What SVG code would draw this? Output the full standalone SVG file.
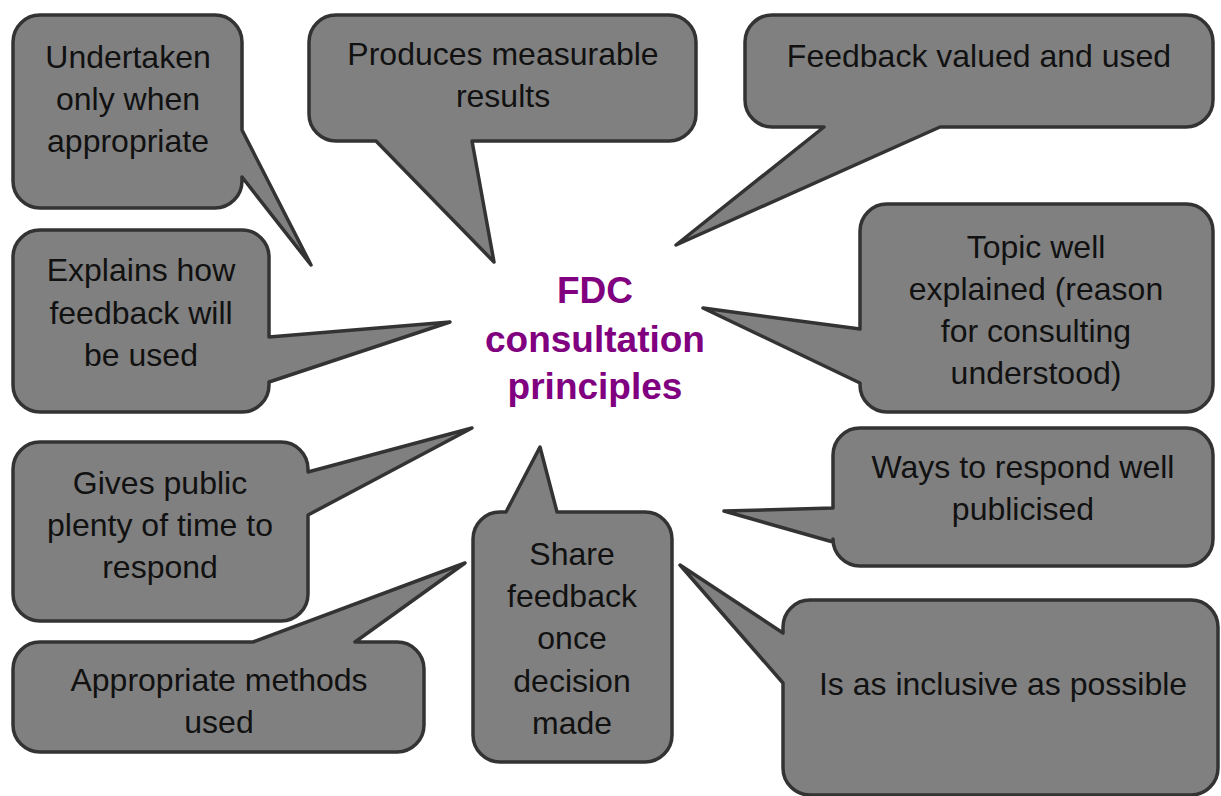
<svg xmlns="http://www.w3.org/2000/svg" width="1221" height="796" viewBox="0 0 1221 796">
<style>
.c{fill:#808080;stroke:#333333;stroke-width:3.5;stroke-linejoin:round}
.t{font-family:"Liberation Sans",Arial,sans-serif;font-size:32px;fill:#111111;text-anchor:middle}
.h{font-family:"Liberation Sans",Arial,sans-serif;font-size:37px;font-weight:bold;fill:#800080;text-anchor:middle}
</style>
<rect width="1221" height="796" fill="#ffffff"/>
<g id="connectors"></g>
<g id="n1">
<path class="c" d="M40,15 H215 A27,27 0 0 1 242,42 V130 L311,265 L242,177 V181 A27,27 0 0 1 215,208 H40 A27,27 0 0 1 13,181 V42 A27,27 0 0 1 40,15 Z"/>
<text class="t" x="128" y="68">Undertaken</text>
<text class="t" x="128" y="110">only when</text>
<text class="t" x="128" y="152">appropriate</text>
</g>
<g id="n2">
<path class="c" d="M336,15 H669 A27,27 0 0 1 696,42 V114 A27,27 0 0 1 669,141 H472 L494,262 L376,141 H336 A27,27 0 0 1 309,114 V42 A27,27 0 0 1 336,15 Z"/>
<text class="t" x="503" y="65">Produces measurable</text>
<text class="t" x="503" y="107">results</text>
</g>
<g id="n3">
<path class="c" d="M772,15 H1186 A27,27 0 0 1 1213,42 V100 A27,27 0 0 1 1186,127 H940 L676,245 L824,127 H772 A27,27 0 0 1 745,100 V42 A27,27 0 0 1 772,15 Z"/>
<text class="t" x="979" y="67">Feedback valued and used</text>
</g>
<g id="n4">
<path class="c" d="M40,230 H242 A27,27 0 0 1 269,257 V337 L450,322 L269,382 V385 A27,27 0 0 1 242,412 H40 A27,27 0 0 1 13,385 V257 A27,27 0 0 1 40,230 Z"/>
<text class="t" x="141" y="281">Explains how</text>
<text class="t" x="141" y="324">feedback will</text>
<text class="t" x="141" y="366">be used</text>
</g>
<g id="n5">
<path class="c" d="M887,204 H1186 A27,27 0 0 1 1213,231 V385 A27,27 0 0 1 1186,412 H887 A27,27 0 0 1 860,385 V383 L703,308 L860,329 V231 A27,27 0 0 1 887,204 Z"/>
<text class="t" x="1036" y="258">Topic well</text>
<text class="t" x="1036" y="300">explained (reason</text>
<text class="t" x="1036" y="342">for consulting</text>
<text class="t" x="1036" y="384">understood)</text>
</g>
<g id="n6">
<path class="c" d="M40,442 H281 A27,27 0 0 1 308,469 V472 L472,428 L308,515 V594 A27,27 0 0 1 281,621 H40 A27,27 0 0 1 13,594 V469 A27,27 0 0 1 40,442 Z"/>
<text class="t" x="160" y="494">Gives public</text>
<text class="t" x="160" y="536">plenty of time to</text>
<text class="t" x="160" y="578">respond</text>
</g>
<g id="n7">
<path class="c" d="M40,642 H253 L465,563 L355,642 H397 A27,27 0 0 1 424,669 V725 A27,27 0 0 1 397,752 H40 A27,27 0 0 1 13,725 V669 A27,27 0 0 1 40,642 Z"/>
<text class="t" x="219" y="691">Appropriate methods</text>
<text class="t" x="219" y="733">used</text>
</g>
<g id="n8">
<path class="c" d="M506,512 L540,447 L557,512 H645 A27,27 0 0 1 672,539 V735 A27,27 0 0 1 645,762 H500 A27,27 0 0 1 473,735 V539 A27,27 0 0 1 500,512 Z"/>
<text class="t" x="572" y="565">Share</text>
<text class="t" x="572" y="607">feedback</text>
<text class="t" x="572" y="649">once</text>
<text class="t" x="572" y="692">decision</text>
<text class="t" x="572" y="734">made</text>
</g>
<g id="n9">
<path class="c" d="M860,428 H1186 A27,27 0 0 1 1213,455 V539 A27,27 0 0 1 1186,566 H860 A27,27 0 0 1 833,539 V542 L724,511 L833,508 V455 A27,27 0 0 1 860,428 Z"/>
<text class="t" x="1023" y="478">Ways to respond well</text>
<text class="t" x="1023" y="520">publicised</text>
</g>
<g id="n10">
<path class="c" d="M810,600 H1191 A27,27 0 0 1 1218,627 V768 A27,27 0 0 1 1191,795 H810 A27,27 0 0 1 783,768 V683 L680,565 L783,633 V627 A27,27 0 0 1 810,600 Z"/>
<text class="t" x="1003" y="695">Is as inclusive as possible</text>
</g>
<g id="center">
<text class="h" x="595" y="303">FDC</text>
<text class="h" x="595" y="352">consultation</text>
<text class="h" x="595" y="399">principles</text>
</g>
</svg>
